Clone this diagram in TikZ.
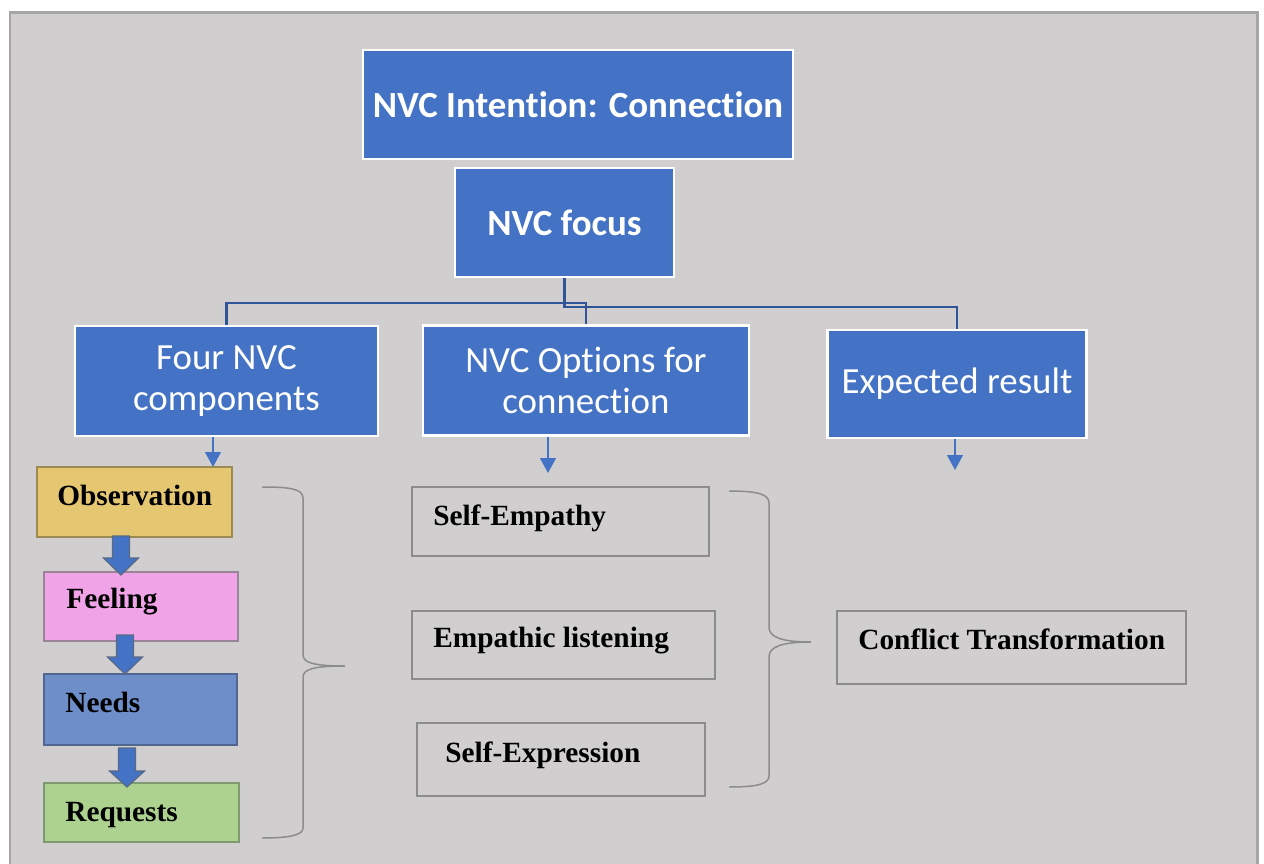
\documentclass[tikz,border=0pt]{standalone}
\usepackage{fontspec}
\setmainfont[Ligatures=NoCommon]{Liberation Serif}
\newfontfamily\calibri[RawFeature={-liga;-clig;-calt;-dlig}]{Carlito}
\usetikzlibrary{arrows.meta}
\definecolor{bgc}{HTML}{D0CECF}
\definecolor{framec}{HTML}{A6A6A6}
\definecolor{bluec}{HTML}{4472C4}
\definecolor{darkc}{HTML}{2F5597}
\definecolor{grayc}{HTML}{8C8C8C}
\definecolor{obsc}{HTML}{E4C770}
\definecolor{obsb}{HTML}{9C8A50}
\definecolor{feelc}{HTML}{F0A3E6}
\definecolor{feelb}{HTML}{9A8598}
\definecolor{needc}{HTML}{6E8EC9}
\definecolor{needb}{HTML}{50678F}
\definecolor{reqc}{HTML}{ADD18F}
\definecolor{reqb}{HTML}{7F9A70}
\definecolor{blkb}{HTML}{5A6A85}
\tikzset{
  bluebox/.style={draw=white, line width=1.4pt, fill=bluec, text=white, inner sep=0pt, align=center},
  topfont/.style={font=\calibri\bfseries\fontsize{21}{24}\selectfont},
  midfont/.style={font=\calibri\fontsize{21}{23.8}\selectfont},
  plainbox/.style={draw=grayc, line width=0.85pt, inner sep=0pt},
  lbl/.style={font=\bfseries\fontsize{16.7}{19}\selectfont, inner sep=0pt, anchor=base west},
  conn/.style={draw=darkc, line width=1.3pt},
  sarr/.style={draw=bluec, line width=0.85pt, -{Triangle[width=9pt,length=8.5pt]}},
  blk/.style={fill=bluec, draw=blkb, line width=0.7pt, line join=miter},
  brace/.style={draw=grayc, line width=0.85pt}
}
\newcommand\blkarrow[4]{%
  \draw[blk] (#1-8.5,#2) -- (#1+8.5,#2) -- (#1+8.5,#3) -- (#1+17.5,#3) -- (#1,#4)
    -- (#1-17.5,#3) -- (#1-8.5,#3) -- cycle;}
\begin{document}
\begin{tikzpicture}[x=0.02cm,y=-0.02cm]
\useasboundingbox (0,0) rectangle (1264,864);
\fill[white] (0,0) rectangle (1264,864);
\fill[bgc] (10,13) rectangle (1257,864);
\draw[framec, line width=1.7pt] (10,864) -- (10,13) -- (1257,13) -- (1257,864);

% top boxes
\node[bluebox, topfont, minimum width=430*0.02cm, minimum height=109*0.02cm] (intent) at (578,104.5) {NVC Intent\kern0pt ion: Connect\kern0pt ion};
\node[bluebox, topfont, minimum width=219*0.02cm, minimum height=109*0.02cm] (focus) at (564.5,222.5) {NVC focus};

\node[bluebox, midfont, minimum width=303*0.02cm, minimum height=110*0.02cm] (four) at (226.5,381) {Four NVC\\components};
\node[bluebox, midfont, minimum width=326*0.02cm, minimum height=110*0.02cm] (opt) at (586,380.5) {NVC Options for\\connect\kern0pt ion};
\node[bluebox, midfont, minimum width=259*0.02cm, minimum height=108*0.02cm] (exp) at (957,384) {Expected result};

% connectors
\coordinate (j1) at (564.5,303);
\coordinate (j2) at (564.5,307);
\draw[conn] (focus.south) -- (j1) -| (four.north);
\draw[conn] (j1) -| (opt.north);
\draw[conn] (focus.south) -- (j2) -| (exp.north);

% small arrows
\coordinate (a1) at (213,467);
\coordinate (a2) at (548,473);
\coordinate (a3) at (955,470);
\draw[sarr] (four.south -| a1) -- (a1);
\draw[sarr] (opt.south -| a2) -- (a2);
\draw[sarr] (exp.south -| a3) -- (a3);

% four components
\node[draw=obsb, fill=obsc, line width=0.85pt, inner sep=0pt, minimum width=195*0.02cm, minimum height=70*0.02cm] (obs) at (134.5,502) {};
\node[draw=feelb, fill=feelc, line width=0.85pt, inner sep=0pt, minimum width=194*0.02cm, minimum height=69*0.02cm] (feel) at (141,606.5) {};
\node[draw=needb, fill=needc, line width=0.85pt, inner sep=0pt, minimum width=193*0.02cm, minimum height=71*0.02cm] (needs) at (140.5,709.5) {};
\node[draw=reqb, fill=reqc, line width=0.85pt, inner sep=0pt, minimum width=195*0.02cm, minimum height=59*0.02cm] (req) at (141.5,812.5) {};
\node[lbl] (obsT) at (57,505) {Observation};
\node[lbl] (feelT) at (66,608) {Feeling};
\node[lbl] (needsT) at (65,712) {Needs};
\node[lbl] (reqT) at (65,821) {Requests};

\blkarrow{121}{536}{558}{575}
\blkarrow{125}{635}{657}{674}
\blkarrow{127}{748}{771}{787}

% options
\node[plainbox, minimum width=297*0.02cm, minimum height=69*0.02cm] (se) at (560.5,521.5) {};
\node[plainbox, minimum width=303*0.02cm, minimum height=68*0.02cm] (el) at (563.5,645) {};
\node[plainbox, minimum width=288*0.02cm, minimum height=73*0.02cm] (sx) at (561,759.5) {};
\node[lbl] (seT) at (433,525) {Self-Empathy};
\node[lbl] (elT) at (433,647) {Empathic listening};
\node[lbl] (sxT) at (445,762) {Self-Expression};

% result
\node[plainbox, minimum width=349*0.02cm, minimum height=73*0.02cm] (ct) at (1011.5,647.5) {};
\node[lbl] (ctT) at (858,649) {Conflict Transformation};

% braces
\draw[brace] (262,487) .. controls (290,487) and (303,489) .. (303,498) -- (303,655)
  .. controls (303,663) and (315,666) .. (345,666)
  .. controls (315,666) and (303,669) .. (303,677) -- (303,828)
  .. controls (303,835) and (290,838) .. (262,838);
\draw[brace] (729,491) .. controls (757,491) and (769,494) .. (769,503) -- (769,627)
  .. controls (769,637) and (781,642) .. (811,642)
  .. controls (781,642) and (769,647) .. (769,657) -- (769,776)
  .. controls (769,784) and (757,787) .. (729,787);
\end{tikzpicture}
\end{document}
